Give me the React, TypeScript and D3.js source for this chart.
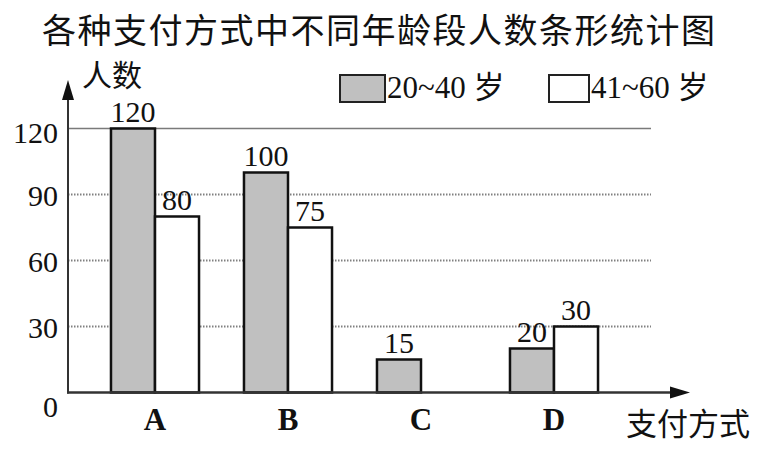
import React from "react";
import * as d3 from "d3";

const categories = ["A", "B", "C", "D"];
const seriesKeys = ["s2040", "s4160"];
const seriesLabels = ["20~40 岁", "41~60 岁"];
const seriesFills = ["#c0c0c0", "#ffffff"];
const values2040 = [120, 100, 15, 20];
const values4160 = [80, 75, 0, 30];
const yTicks = [0, 30, 60, 90, 120];
const title = "各种支付方式中不同年龄段人数条形统计图";
const yLabel = "人数";
const xLabel = "支付方式";

const W = 773;
const H = 451;
const SERIF = "'Liberation Serif', 'Times New Roman', 'Noto Sans CJK SC', serif";
const CJK = "'Noto Sans CJK SC', sans-serif";

export default function App() {
  const axisX = 68;
  const x0 = d3
    .scaleBand<string>()
    .domain(categories)
    .range([88.5, 620.5])
    .paddingInner(0.338)
    .paddingOuter(0.169);
  const x1 = d3.scaleBand<string>().domain(seriesKeys).range([0, x0.bandwidth()]);
  const y = d3.scaleLinear().domain([0, 120]).range([392.5, 128.5]);
  const seriesValues = [values2040, values4160];

  return (
    <svg
      width={W}
      height={H}
      viewBox={`0 0 ${W} ${H}`}
      style={{ position: "absolute", left: 0, top: 0, background: "#fff" }}
    >
      <rect x={0} y={0} width={W} height={H} fill="#fff" />
      <text x={42} y={43} fontFamily={CJK} fontSize={34} letterSpacing={1.5} fill="#111">
        {title}
      </text>

      {/* gridlines */}
      {yTicks
        .filter((t) => t > 0)
        .map((t) => (
          <line
            key={`g${t}`}
            x1={axisX}
            x2={651}
            y1={y(t)}
            y2={y(t)}
            stroke={t === 120 ? "#7a7a7a" : "#808080"}
            strokeWidth={t === 120 ? 1.6 : 2}
            strokeDasharray={t === 120 ? undefined : "1.5,1.5"}
          />
        ))}

      {/* tick labels */}
      {yTicks.map((t) => (
        <text
          key={`t${t}`}
          x={58}
          y={y(t) + (t === 0 ? 24 : t === 120 ? 14 : 11)}
          textAnchor="end"
          fontFamily={SERIF}
          fontSize={30}
          fill="#111"
        >
          {t}
        </text>
      ))}

      {/* bars */}
      {categories.map((c, i) => (
        <g key={c} transform={`translate(${x0(c)},0)`}>
          {seriesKeys.map((k, s) => {
            const v = seriesValues[s][i];
            if (!v) return null;
            const bx = x1(k) as number;
            return (
              <g key={k}>
                <rect
                  x={bx}
                  y={y(v)}
                  width={x1.bandwidth()}
                  height={y(0) - y(v)}
                  fill={seriesFills[s]}
                  stroke="#111"
                  strokeWidth={2.5}
                />
                <text
                  x={bx + x1.bandwidth() / 2}
                  y={y(v) - 7}
                  textAnchor="middle"
                  fontFamily={SERIF}
                  fontSize={30}
                  fill="#111"
                >
                  {v}
                </text>
              </g>
            );
          })}
        </g>
      ))}

      {/* axes */}
      <line x1={axisX} x2={axisX} y1={393.5} y2={96} stroke="#333" strokeWidth={2} />
      <path d={`M${axisX},80 L${axisX - 6},100 L${axisX + 6},100 Z`} fill="#111" />
      <line x1={axisX - 1} x2={674} y1={392.5} y2={392.5} stroke="#333" strokeWidth={2.5} />
      <path d="M690,392.5 L670,386.5 L670,398.5 Z" fill="#111" />

      {/* category labels */}
      {categories.map((c) => (
        <text
          key={`c${c}`}
          x={(x0(c) as number) + x0.bandwidth() / 2}
          y={430}
          textAnchor="middle"
          fontFamily={SERIF}
          fontWeight="bold"
          fontSize={31}
          fill="#111"
        >
          {c}
        </text>
      ))}

      <text x={82} y={86} fontFamily={CJK} fontSize={30} fill="#111">
        {yLabel}
      </text>
      <text x={626} y={435} fontFamily={CJK} fontSize={31} fill="#111">
        {xLabel}
      </text>

      {/* legend */}
      {seriesLabels.map((lab, s) => {
        const lx = s === 0 ? 340 : 549;
        return (
          <g key={lab}>
            <rect x={lx} y={75} width={s === 0 ? 45 : 40} height={27} fill={seriesFills[s]} stroke="#222" strokeWidth={2} />
            <text x={lx + (s === 0 ? 47 : 42)} y={98} fontFamily={SERIF} fontSize={31} fill="#111">
              {lab}
            </text>
          </g>
        );
      })}
    </svg>
  );
}
